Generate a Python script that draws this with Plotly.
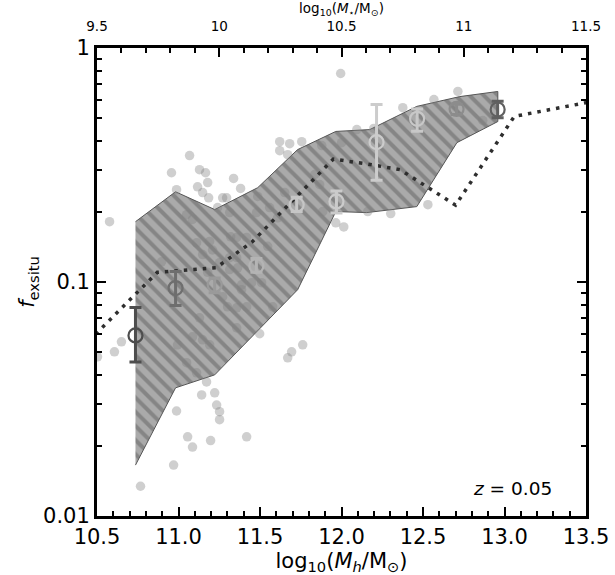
import plotly.graph_objects as go

# ---------------- data ----------------
# scatter of individual galaxies: halo mass and ex-situ fraction
pts_mh = [10.577, 11.068, 10.957, 11.129, 11.166, 11.179, 11.117, 11.148, 11.185, 10.988,
          11.271, 11.338, 11.381, 11.295, 11.621, 11.682, 11.621, 11.670, 11.995, 11.756,
          11.879, 12.001, 12.094, 12.198, 12.376, 12.567, 12.714, 12.867, 11.965, 12.014,
          12.161, 12.302, 12.530, 11.836, 11.866, 11.050, 11.086, 11.240, 11.314, 11.479,
          11.559, 11.608, 11.111, 11.191, 11.357, 11.418, 11.148, 11.252, 11.357, 11.314,
          11.387, 11.271, 11.301, 11.357, 11.418, 11.578, 11.129, 11.086, 11.148, 11.191,
          11.357, 10.994, 10.896, 11.179, 11.209, 11.486, 11.652, 11.320, 11.547, 11.314,
          11.363, 11.885, 11.387, 11.449, 11.510, 10.650, 10.607, 10.503, 11.050, 11.111,
          11.172, 11.142, 11.222, 11.234, 11.252, 11.252, 10.988, 11.056, 11.086, 11.197,
          11.418, 10.970, 10.767, 11.498, 11.762, 11.694, 11.670]
pts_f = [0.181, 0.347, 0.293, 0.302, 0.293, 0.266, 0.255, 0.241, 0.229, 0.248,
         0.229, 0.277, 0.251, 0.229, 0.398, 0.390, 0.364, 0.350, 0.778, 0.398,
         0.383, 0.394, 0.448, 0.453, 0.556, 0.602, 0.652, 0.490, 0.179, 0.172,
         0.200, 0.196, 0.214, 0.288, 0.261, 0.194, 0.185, 0.208, 0.198, 0.198,
         0.208, 0.188, 0.147, 0.149, 0.155, 0.155, 0.131, 0.121, 0.127, 0.113,
         0.0927, 0.0865, 0.0783, 0.0776, 0.0783, 0.0783, 0.0703, 0.0583, 0.0566, 0.0539,
         0.0637, 0.0539, 0.122, 0.110, 0.137, 0.232, 0.241, 0.156, 0.142, 0.127,
         0.115, 0.200, 0.0973, 0.0993, 0.0993, 0.0555, 0.0503, 0.0479, 0.0452, 0.0409,
         0.0374, 0.0329, 0.0336, 0.0298, 0.0279, 0.0258, 0.0281, 0.0218, 0.0197, 0.0210,
         0.0218, 0.0165, 0.0134, 0.0601, 0.0539, 0.0503, 0.0474]

# hatched band (percentile envelope)
band_mh = [10.736, 10.982, 11.222, 11.486, 11.731, 11.965, 12.173, 12.462, 12.726, 12.959]
band_hi = [0.181, 0.243, 0.204, 0.253, 0.368, 0.440, 0.448, 0.563, 0.620, 0.652]
band_lo_mh = [10.736, 10.982, 11.222, 11.731, 11.965, 12.155, 12.462, 12.708, 12.959]
band_lo = [0.0165, 0.0353, 0.0401, 0.0927, 0.200, 0.198, 0.210, 0.394, 0.485]

# binned medians with error bars
bin_mh = [10.736, 10.982, 11.222, 11.478, 11.725, 11.969, 12.215, 12.464, 12.706, 12.958]
bin_f = [0.0591, 0.0942, 0.0973, 0.117, 0.214, 0.221, 0.396, 0.498, 0.549, 0.546]
bin_up = [0.0778, 0.111, 0.104, 0.126, 0.230, 0.245, 0.573, 0.549, 0.575, 0.592]
bin_dn = [0.0455, 0.0794, 0.090, 0.110, 0.200, 0.197, 0.272, 0.441, 0.520, 0.503]
bin_col = ["#4d4d4d", "#6e6e6e", "#9a9a9a", "#b4b4b4", "#c6c6c6",
           "#cbcbcb", "#cccccc", "#c8c8c8", "#8c8c8c", "#606060"]

# dotted model curve
model_mh = [10.45, 10.87, 11.23, 11.45, 11.95, 12.15, 12.36, 12.70, 13.06, 13.55]
model_f = [0.056, 0.110, 0.115, 0.148, 0.335, 0.320, 0.302, 0.213, 0.510, 0.593]

# axis ticks
x_ticks = [10.5, 11.0, 11.5, 12.0, 12.5, 13.0, 13.5]
top_ticks = [9.5, 10, 10.5, 11, 11.5]
top_labels = ["9.5", "10", "10.5", "11", "11.5"]
y_ticks = [0.01, 0.1, 1]
y_labels = ["0.01", "0.1", "1"]
y_minor = [0.02, 0.03, 0.04, 0.05, 0.06, 0.07, 0.08, 0.09,
           0.2, 0.3, 0.4, 0.5, 0.6, 0.7, 0.8, 0.9]

FONT = "DejaVu Sans"

fig = go.Figure()

# hatched band polygon
poly_x = band_mh + band_lo_mh[::-1]
poly_y = band_hi + band_lo[::-1]
fig.add_trace(go.Scatter(
    x=poly_x, y=poly_y, mode="lines", fill="toself",
    fillcolor="#aaaaaa",
    fillpattern=dict(shape="\\", fgcolor="#606060", bgcolor="#aaaaaa",
                     size=10, solidity=0.4),
    line=dict(color="#555555", width=1), hoverinfo="skip", showlegend=False))

# scatter points
fig.add_trace(go.Scatter(
    x=pts_mh, y=pts_f, mode="markers",
    marker=dict(size=9.5, color="rgba(128,128,128,0.38)", line=dict(width=0)),
    showlegend=False))

# dotted model line
fig.add_trace(go.Scatter(
    x=model_mh, y=model_f, mode="lines",
    line=dict(color="#2e2e2e", width=3.5, dash="3.5px,6px"),
    showlegend=False))

# binned medians with asymmetric error bars
for xm, ym, yu, yd, c in zip(bin_mh, bin_f, bin_up, bin_dn, bin_col):
    fig.add_trace(go.Scatter(
        x=[xm], y=[ym], mode="markers",
        marker=dict(symbol="circle-open", size=14, color=c, line=dict(width=2.2, color=c)),
        error_y=dict(type="data", symmetric=False, array=[yu - ym], arrayminus=[ym - yd],
                     color=c, thickness=3, width=6),
        showlegend=False))

# invisible trace for the top axis
fig.add_trace(go.Scatter(x=top_ticks, y=[0.5] * len(top_ticks), xaxis="x2",
                         mode="markers", marker=dict(opacity=0), showlegend=False,
                         hoverinfo="skip"))

fig.update_layout(
    width=615, height=575,
    margin=dict(l=97, r=29, t=48, b=59),
    paper_bgcolor="white", plot_bgcolor="white",
    font=dict(family=FONT, color="black"),
    xaxis=dict(
        range=[10.5, 13.5], tickvals=x_ticks, tickformat=".1f", automargin=False,
        ticks="inside", ticklen=9, tickwidth=2, tickcolor="black",
        minor=dict(dtick=0.1, ticks="inside", ticklen=5, tickwidth=2, tickcolor="black"),
        showline=True, linewidth=3, linecolor="black", mirror=True,
        showgrid=False, zeroline=False,
        tickfont=dict(size=21, family=FONT),
        title=dict(text="log<sub>10</sub>(<i>M</i><sub><i>h</i></sub>/M<sub>⊙</sub>)",
                   font=dict(size=21, family=FONT), standoff=0),
    ),
    xaxis2=dict(
        overlaying="x", side="top", anchor="y", automargin=False,
        range=[9.5, 11.5], tickvals=top_ticks, ticktext=top_labels,
        ticks="inside", ticklen=9, tickwidth=2, tickcolor="black",
        ticklabelstandoff=13,
        minor=dict(dtick=0.1, ticks="inside", ticklen=5, tickwidth=2, tickcolor="black"),
        showline=False, showgrid=False, zeroline=False,
        tickfont=dict(size=13.5, family=FONT),
        title=dict(text="log<sub>10</sub>(<i>M</i><sub>⋆</sub>/M<sub>⊙</sub>)",
                   font=dict(size=13.5, family=FONT), standoff=2),
    ),
    yaxis=dict(
        type="log", range=[-2, 0], tickvals=y_ticks, ticktext=y_labels, automargin=False,
        ticks="inside", ticklen=9, tickwidth=2, tickcolor="black",
        minor=dict(tickvals=y_minor, ticks="inside", ticklen=5, tickwidth=2,
                   tickcolor="black", showgrid=False),
        showline=True, linewidth=3, linecolor="black", mirror="ticks",
        showgrid=False, zeroline=False,
        tickfont=dict(size=21, family=FONT),
        title=dict(text="<i>f</i><sub>exsitu</sub>", font=dict(size=21, family=FONT),
                   standoff=3),
    ),
    annotations=[dict(
        text="<i>z</i> = 0.05", xref="paper", yref="paper", x=0.935, y=0.033,
        xanchor="right", yanchor="bottom", showarrow=False,
        font=dict(size=18.5, family=FONT, color="black"))],
)

fig.write_html("out.html", config={"displayModeBar": False},
               post_script="document.body.style.margin='0';document.body.style.overflow='hidden';")
